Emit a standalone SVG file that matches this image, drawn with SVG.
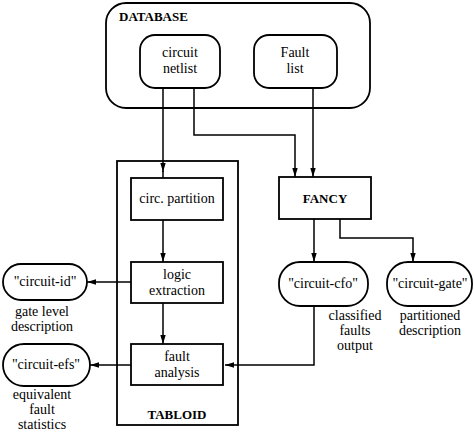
<svg xmlns="http://www.w3.org/2000/svg" width="474" height="434" viewBox="0 0 474 434" font-family="'Liberation Serif', 'DejaVu Serif', serif">
<defs>
<marker id="ah" markerWidth="9" markerHeight="15" refX="15" refY="4.5" orient="auto" markerUnits="userSpaceOnUse" viewBox="0 0 15 9">
<path d="M0,0 L15,4.5 L0,9 Z" fill="#000"/>
</marker>
</defs>
<style>
text{font-family:'Liberation Serif','DejaVu Serif',serif;font-size:14px;fill:#000;text-anchor:middle}
.b{font-weight:bold;font-size:13px}
.box{fill:#fff;stroke:#000;stroke-width:1.8}
.frame{fill:none;stroke:#000;stroke-width:1.8}
.ln{fill:none;stroke:#000;stroke-width:1.5}
</style>
<g id="database">
<rect class="frame" x="106" y="3" width="264" height="105" rx="20"/>
<text class="b" x="119" y="21" style="text-anchor:start">DATABASE</text>
</g>
<g id="tabloid">
<rect class="frame" x="117" y="161" width="121" height="264"/>
<text class="b" x="177" y="419">TABLOID</text>
</g>
<g id="connectors">
<path class="ln" d="M163,88 V172" marker-end="url(#ah)"/>
<path class="ln" d="M163,171 V178"/>
<path class="ln" d="M194,88 V135 H295 V177" marker-end="url(#ah)"/>
<path class="ln" d="M313,88 V177" marker-end="url(#ah)"/>
<path class="ln" d="M163,220 V262" marker-end="url(#ah)"/>
<path class="ln" d="M163,303 V344" marker-end="url(#ah)"/>
<path class="ln" d="M131,282 H87" marker-end="url(#ah)"/>
<path class="ln" d="M131,365 H90" marker-end="url(#ah)"/>
<path class="ln" d="M314,219 V262" marker-end="url(#ah)"/>
<path class="ln" d="M340,219 V238 H413 V262" marker-end="url(#ah)"/>
<path class="ln" d="M314,306 V365 H225" marker-end="url(#ah)"/>
</g>
<g id="circuit-netlist">
<rect class="box" x="140" y="35" width="80" height="53" rx="15"/>
<text x="180" y="57">circuit</text>
<text x="180" y="73">netlist</text>
</g>
<g id="fault-list">
<rect class="box" x="254" y="35" width="83" height="53" rx="15"/>
<text x="295" y="57">Fault</text>
<text x="295" y="73">list</text>
</g>
<g id="circ-partition">
<rect class="box" x="131" y="178" width="92" height="42"/>
<text x="177" y="203">circ. partition</text>
</g>
<g id="logic-extraction">
<rect class="box" x="131" y="262" width="92" height="41"/>
<text x="177" y="279">logic</text>
<text x="177" y="295">extraction</text>
</g>
<g id="fault-analysis">
<rect class="box" x="131" y="344" width="92" height="41"/>
<text x="177" y="361">fault</text>
<text x="177" y="377">analysis</text>
</g>
<g id="fancy">
<rect class="box" x="279" y="177" width="92" height="42"/>
<text class="b" x="325" y="203">FANCY</text>
</g>
<g id="circuit-id">
<rect class="box" x="3" y="264" width="84" height="36" rx="18"/>
<text x="45" y="286">"circuit-id"</text>
<text x="42" y="316">gate level</text>
<text x="42" y="331">description</text>
</g>
<g id="circuit-efs">
<rect class="box" x="3" y="344" width="87" height="42" rx="21"/>
<text x="46" y="369">"circuit-efs"</text>
<text x="42" y="399">equivalent</text>
<text x="42" y="414">fault</text>
<text x="42" y="429">statistics</text>
</g>
<g id="circuit-cfo">
<rect class="box" x="279" y="262" width="89" height="44" rx="21"/>
<text x="323" y="288">"circuit-cfo"</text>
<text x="355" y="320">classified</text>
<text x="355" y="335">faults</text>
<text x="355" y="350">output</text>
</g>
<g id="circuit-gate">
<rect class="box" x="387" y="262" width="85" height="44" rx="21"/>
<text x="430" y="288">"circuit-gate"</text>
<text x="430" y="320">partitioned</text>
<text x="430" y="335">description</text>
</g>
</svg>
